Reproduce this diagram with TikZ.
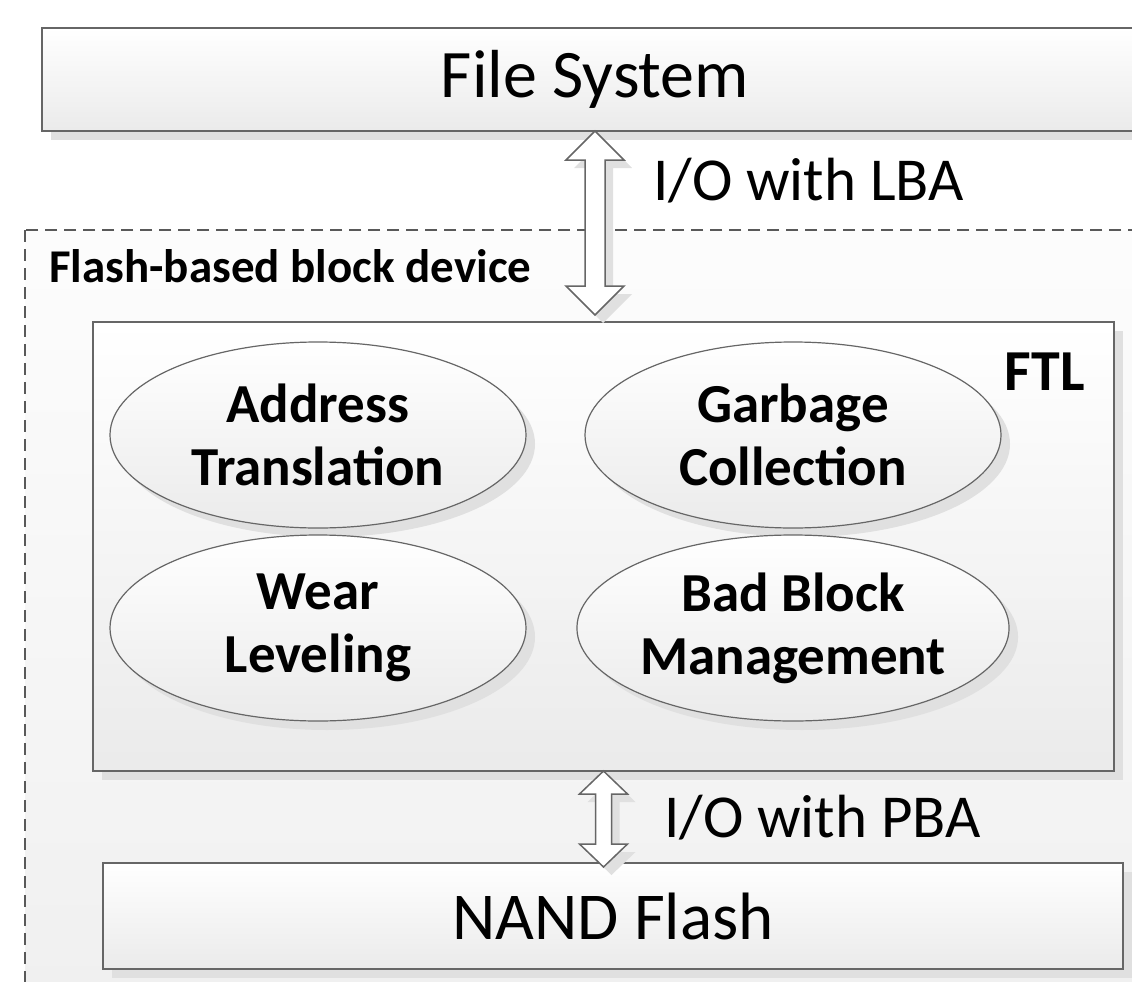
\documentclass[tikz,border=0pt]{standalone}
\usepackage{fontspec}
\setmainfont{Carlito}
\usepackage{tikz}
\usetikzlibrary{shapes.geometric,shadows,calc}

% hollow double arrow: top tip, bottom tip, head half width, head length, shaft half width
\newcommand\ioarrow[5]{%
  \draw[ioarr] (#1) -- ++(#3,#4) -- ++(#5-#3,0) -- ($(#2)+(#5,-#4)$) -- ++(#3-#5,0) -- (#2)
    -- ++(-#3,-#4) -- ++(#3-#5,0) -- ($(#1)+(-#5,#4)$) -- ++(#5-#3,0) -- cycle;}

\begin{document}
\begin{tikzpicture}[x=1pt,y=-1pt,
    box/.style={draw=black!60,line width=1.5pt,top color=white,bottom color=black!8,
      inner sep=0pt,outer sep=0pt,
      drop shadow={fill=black!12,opacity=1,shadow xshift=9pt,shadow yshift=-9pt}},
    func/.style={ellipse,box,line width=1.2pt,minimum width=416pt,minimum height=186pt,align=center,
      font=\fontsize{55}{63}\selectfont\bfseries},
    ioarr/.style={draw=black!60,line width=1.5pt,fill=white,
      drop shadow={fill=black!12,opacity=1,shadow xshift=8pt,shadow yshift=-8pt}},
    io/.style={anchor=base west,inner sep=0pt,font=\fontsize{61}{66}\selectfont},
    devframe/.style={draw=black!65,line width=1.5pt,dash pattern=on 12pt off 7pt,
      top color=black!1,bottom color=black!6}]
   \useasboundingbox (0,0) rectangle (1132,982);
   % flash device
   \draw[devframe] (25,230) rectangle (1175,1015);
   \node[anchor=base west,inner sep=0pt,font=\fontsize{47}{54}\selectfont\bfseries] (devlbl) at (49,282) {Flash-based block device};
   % file system
   \node[box,minimum width=1106pt,minimum height=103pt,font=\fontsize{68}{74}\selectfont] (fs) at (595,79.5) {File System};
   % FTL
   \node[box,minimum width=1021pt,minimum height=449pt] (ftl) at (603.5,546.5) {};
   \node[anchor=base east,inner sep=0pt,font=\fontsize{58}{64}\selectfont\bfseries] (ftllbl) at (1085,390) {FTL};
   \foreach \nm/\x/\y/\txt in {addr/318/435/{Address\\Translation},gc/793/435/{Garbage\\Collection},
                               wl/318/628/{Wear\\Leveling},bbm/793/628/{Bad Block\\Management}}
      \node[func] (\nm) at (\x,\y) {\txt};
   % NAND
   \node[box,minimum width=1020pt,minimum height=106pt,font=\fontsize{67}{72}\selectfont] (nand) at (613,916) {NAND Flash};
   % I/O arrows
   \coordinate (lbaend) at ($(fs.south |- ftl.north)+(0,-7)$);
   \ioarrow{fs.south}{lbaend}{29}{29}{10}
   \node[io] (lba) at (653,200) {I/O with LBA};
   \coordinate (pbaend) at ($(ftl.south |- nand.north)+(0,4)$);
   \ioarrow{ftl.south}{pbaend}{24}{23}{8}
   \node[io] (pba) at (664,837) {I/O with PBA};
\end{tikzpicture}
\end{document}
